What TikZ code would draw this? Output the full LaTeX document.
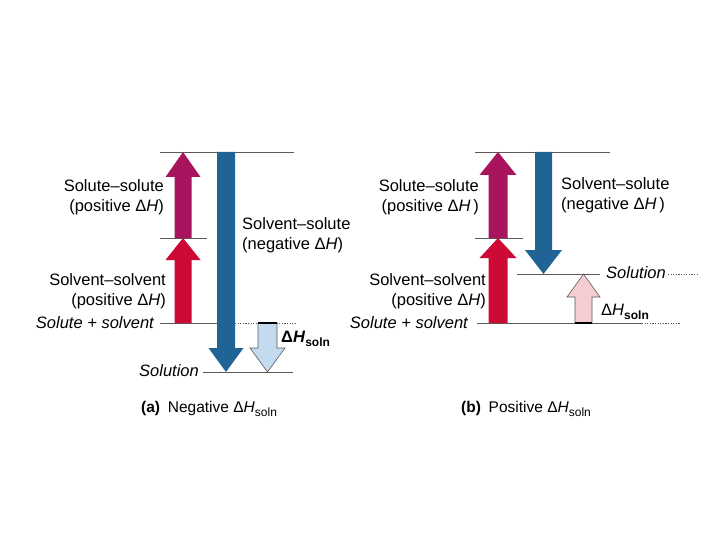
\documentclass[tikz,border=0pt]{standalone}
\usepackage{fontspec}
\setmainfont{Liberation Sans}
\definecolor{solpurple}{HTML}{A8145E}
\definecolor{solred}{HTML}{CC0A35}
\definecolor{solblue}{HTML}{1F6494}
\definecolor{sollblue}{HTML}{C3DAEF}
\definecolor{solpink}{HTML}{F5CCD1}
\definecolor{levgray}{HTML}{5A5A5A}
\newcommand\levarrow[7]{%
  \filldraw[#1] ({#2-#3},#5) -- ({#2-#3},#6) -- ({#2-#4},#6) -- (#2,#7) -- ({#2+#4},#6) -- ({#2+#3},#6) -- ({#2+#3},#5) -- cycle;}
\newcommand\dH{Δ\textit{H}}
\newcommand\dHsoln{Δ\textit{H}\raisebox{-0.45ex}{\fontsize{12}{13}\selectfont soln}}
\begin{document}
\begin{tikzpicture}[x=1pt,y=-1pt,
  lbl/.style={font=\fontsize{16.5}{20}\selectfont, inner sep=0pt},
  ilbl/.style={font=\fontsize{16.5}{20}\selectfont\itshape, inner sep=0pt},
  captxt/.style={font=\fontsize{15.5}{20}\selectfont, inner sep=0pt},
  lev/.style={draw=levgray, line width=0.8pt},
  levdot/.style={draw=levgray, line width=0.8pt, dash pattern=on 1.2pt off 1.4pt},
  purplearr/.style={fill=solpurple, draw=none},
  redarr/.style={fill=solred, draw=none},
  bluearr/.style={fill=solblue, draw=none},
  lbluearr/.style={fill=sollblue, draw=levgray, line width=0.6pt},
  pinkarr/.style={fill=solpink, draw=levgray, line width=0.6pt}]
\useasboundingbox (0,0) rectangle (720,540);
% ---------- panel (a) ----------
\coordinate (aTopL) at (160,152); \coordinate (aTopR) at (294,152);
\coordinate (aMidL) at (160,238); \coordinate (aMidR) at (207,238);
\coordinate (aBaseL) at (160,323); \coordinate (aBaseM) at (226,323);
\coordinate (aDotL) at (235,323); \coordinate (aDotR) at (295,323);
\coordinate (aSolL) at (203,372); \coordinate (aSolR) at (293,372);
\draw[lev] (aTopL) -- (aTopR);
\draw[lev] (aMidL) -- (aMidR);
\draw[lev] (aBaseL) -- (aBaseM);
\draw[levdot] (aDotL) -- (aDotR);
\draw[lev] (aSolL) -- (aSolR);
\levarrow{purplearr}{183}{8.5}{17.5}{238}{177}{152}
\levarrow{redarr}{183}{8.5}{17.5}{323}{260}{238}
\levarrow{bluearr}{226}{9}{17.5}{152}{348}{372}
\levarrow{lbluearr}{267.5}{9.5}{17.5}{323}{348}{372}
\draw[line width=1.8pt] (258,323) -- (277,323);
\node[lbl, anchor=east, align=right] (aSS) at (164,197) {Solute--solute\\(positive \dH)};
\node[lbl, anchor=west, align=left] (aSvS) at (242,235) {Solvent--solute\\(negative \dH)};
\node[lbl, anchor=east, align=right] (aSvSv) at (166,291) {Solvent--solvent\\(positive \dH)};
\node[ilbl, anchor=east] (aSps) at (154,323) {Solute + solvent};
\node[ilbl, anchor=east] (aSol) at (199,371) {Solution};
\node[lbl, anchor=west] (adH) at (281,339) {\bfseries Δ\textit{H}\raisebox{-0.45ex}{\fontsize{12}{13}\selectfont soln}};
\node[captxt, anchor=west] (acap) at (141,409) {\textbf{(a)}\enspace Negative \dHsoln};
% ---------- panel (b) ----------
\coordinate (bTopL) at (475,152); \coordinate (bTopR) at (610,152);
\coordinate (bMidL) at (475,238); \coordinate (bMidR) at (523,238);
\coordinate (bSolL) at (517,274); \coordinate (bSolR) at (600,274);
\coordinate (bSolDL) at (668,274); \coordinate (bSolDR) at (698,274);
\coordinate (bBaseL) at (477,323); \coordinate (bBaseR) at (642,323);
\coordinate (bBaseD) at (680,323);
\draw[lev] (bTopL) -- (bTopR);
\draw[lev] (bMidL) -- (bMidR);
\draw[lev] (bSolL) -- (bSolR);
\draw[levdot] (bSolDL) -- (bSolDR);
\draw[lev] (bBaseL) -- (bBaseR);
\draw[levdot] (bBaseR) -- (bBaseD);
\levarrow{purplearr}{498}{9.5}{18.5}{238}{175}{152}
\levarrow{redarr}{498}{9.5}{18.5}{323}{258}{238}
\levarrow{bluearr}{543.5}{8.5}{18.5}{152}{250}{274}
\levarrow{pinkarr}{583.5}{8.5}{16.5}{323}{297}{274}
\draw[line width=1.8pt] (575,323) -- (592,323);
\node[lbl, anchor=east, align=right] (bSS) at (479,197) {Solute--solute\\(positive \dH\,)};
\node[lbl, anchor=west, align=left] (bSvS) at (561,195) {Solvent--solute\\(negative \dH\,)};
\node[lbl, anchor=east, align=right] (bSvSv) at (486,291) {Solvent--solvent\\(positive \dH)};
\node[ilbl, anchor=east] (bSps) at (468,323) {Solute + solvent};
\node[ilbl, anchor=west] (bSol) at (606,273) {Solution};
\node[lbl, anchor=west] (bdH) at (601,312) {Δ\textit{H}\raisebox{-0.45ex}{\fontsize{12}{13}\selectfont\bfseries soln}};
\node[captxt, anchor=west] (bcap) at (461,409) {\textbf{(b)}\enspace Positive \dHsoln};
\end{tikzpicture}
\end{document}
